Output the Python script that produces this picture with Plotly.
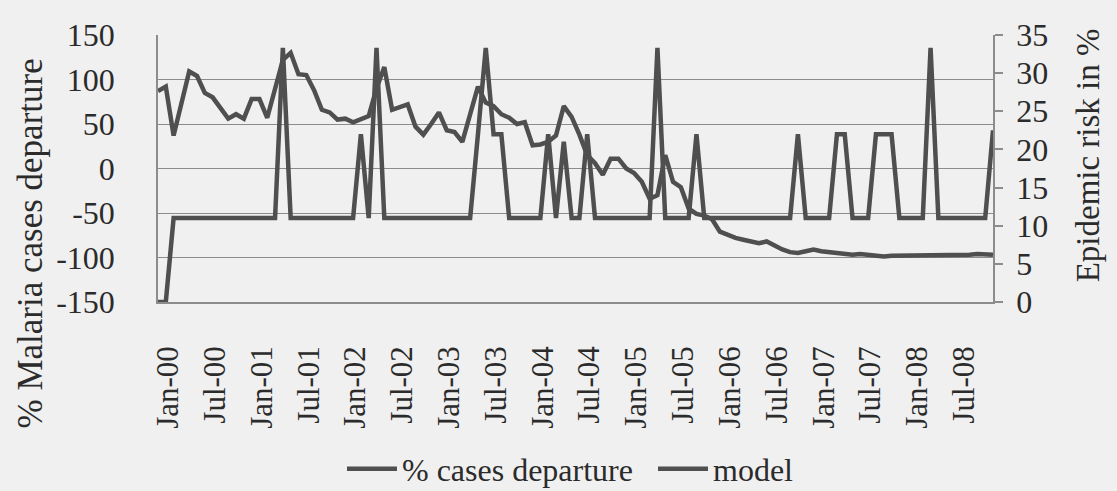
import plotly.graph_objects as go

# ---- categories (monthly, Jan-00 .. Dec-08) ----
month_names = ["Jan", "Feb", "Mar", "Apr", "May", "Jun",
               "Jul", "Aug", "Sep", "Oct", "Nov", "Dec"]
years = ["00", "01", "02", "03", "04", "05", "06", "07", "08"]
months = [f"{m}-{y}" for y in years for m in month_names]
tick_labels = [m for m in months if m.startswith(("Jan", "Jul"))]

# left and right axis tick values / labels
left_ticks = [150, 100, 50, 0, -50, -100, -150]
left_tick_text = ["150", "100", "50", "0", "-50", "-100", "-150"]
right_ticks = [0, 5, 10, 15, 20, 25, 30, 35]

# ---- series values ----
cases_departure = [
    87, 92, 37, 73, 109, 104, 85, 80, 68, 56, 61, 56,          # 2000
    78, 78, 57, 88, 122, 130, 106, 105, 88, 66, 63, 55,        # 2001
    56, 52, 55, 59, 90, 114, 66, 69, 72, 47, 38, 50,           # 2002
    63, 43, 41, 30, 60, 92, 74, 70, 61, 57, 50, 52,            # 2003
    26, 27, 30, 37, 70, 58, 38, 15, 6, -7, 11, 11,             # 2004
    0, -5, -15, -34, -30, 15, -15, -21, -45, -51, -53, -57,    # 2005
    -71, -75, -78, -80, -82, -84, -82, -87, -91, -94, -95, -93,  # 2006
    -91, -93, -94, -95, -96, -97, -96, -97, -99, -99, -98, -98,  # 2007
    -98, -97, -98, -97, -98, -98, -97, -97, -97, -96, -97, -97,  # 2008
]

model_risk = [
    0, 0, 11, 11, 11, 11, 11, 11, 11, 11, 11, 11,              # 2000
    11, 11, 11, 11, 33.3, 11, 11, 11, 11, 11, 11, 11,          # 2001
    11, 11, 22, 11, 33.3, 11, 11, 11, 11, 11, 11, 11,          # 2002
    11, 11, 11, 11, 11, 22, 33.3, 22, 22, 11, 11, 11,          # 2003
    11, 11, 22, 11, 21, 11, 11, 22, 11, 11, 11, 11,            # 2004
    11, 11, 11, 11, 33.3, 11, 11, 11, 11, 22, 11, 11,          # 2005
    11, 11, 11, 11, 11, 11, 11, 11, 11, 11, 22, 11,            # 2006
    11, 11, 11, 22, 22, 11, 11, 11, 22, 22, 22, 11,            # 2007
    11, 11, 11, 33.3, 11, 11, 11, 11, 11, 11, 11, 22.5,        # 2008
]

LINE = "#4f4f4f"
GRID = "#8c8c8c"
TEXT = "#2b2b2b"
BG = "#f0f0f0"
FONT = "Liberation Serif"

fig = go.Figure()
fig.add_trace(go.Scatter(
    x=months, y=cases_departure, name="% cases departure", mode="lines",
    line=dict(color=LINE, width=4.5), legendwidth=246,
))
fig.add_trace(go.Scatter(
    x=months, y=model_risk, name="model", mode="lines", yaxis="y2",
    line=dict(color=LINE, width=4.5),
))

fig.update_layout(
    width=1117, height=491,
    margin=dict(l=158, r=124, t=35, b=189, autoexpand=False),
    paper_bgcolor=BG, plot_bgcolor=BG,
    font=dict(family=FONT, color=TEXT, size=32),
    showlegend=True,
    legend=dict(
        orientation="h", x=0.494, xanchor="center", y=-0.625, yanchor="middle",
        font=dict(family=FONT, size=32, color=TEXT),
        bgcolor="rgba(0,0,0,0)", itemwidth=50,
    ),
    xaxis=dict(
        type="category", categoryorder="array", categoryarray=months,
        range=[0, len(months) - 1],
        tickmode="array", tickvals=tick_labels, ticktext=tick_labels,
        tickangle=-90, tickfont=dict(family=FONT, size=31, color=TEXT),
        showgrid=False, zeroline=False,
        showline=True, linecolor=GRID, linewidth=1.5,
        ticks="", ticklabelstandoff=30, ticklabelshift=10,
    ),
    yaxis=dict(
        range=[-150, 150],
        tickmode="array", tickvals=left_ticks, ticktext=left_tick_text,
        showgrid=True, gridcolor=GRID, gridwidth=1.2,
        zeroline=False, showline=True, linecolor=GRID, linewidth=1.5,
        ticks="", ticklabelstandoff=35,
        tickfont=dict(family=FONT, size=32, color=TEXT),
    ),
    yaxis2=dict(
        range=[0, 35], tickmode="array", tickvals=right_ticks,
        overlaying="y", side="right",
        showgrid=False, zeroline=False, showline=True, linecolor=GRID, linewidth=1.5,
        ticks="outside", ticklen=8, tickcolor=GRID, tickwidth=1.5,
        ticklabelstandoff=7,
        tickfont=dict(family=FONT, size=32, color=TEXT),
    ),
    annotations=[
        dict(text="% Malaria cases departure", xref="paper", yref="paper",
             x=-0.153, y=0.22, xanchor="center", yanchor="middle",
             textangle=-90, showarrow=False,
             font=dict(family=FONT, size=35, color=TEXT)),
        dict(text="Epidemic risk in %", xref="paper", yref="paper",
             x=1.114, y=0.55, xanchor="center", yanchor="middle",
             textangle=-90, showarrow=False,
             font=dict(family=FONT, size=33, color=TEXT)),
    ],
)

fig.write_html(
    "out.html",
    config={"displayModeBar": False},
    post_script="document.body.style.margin='0px';",
)
